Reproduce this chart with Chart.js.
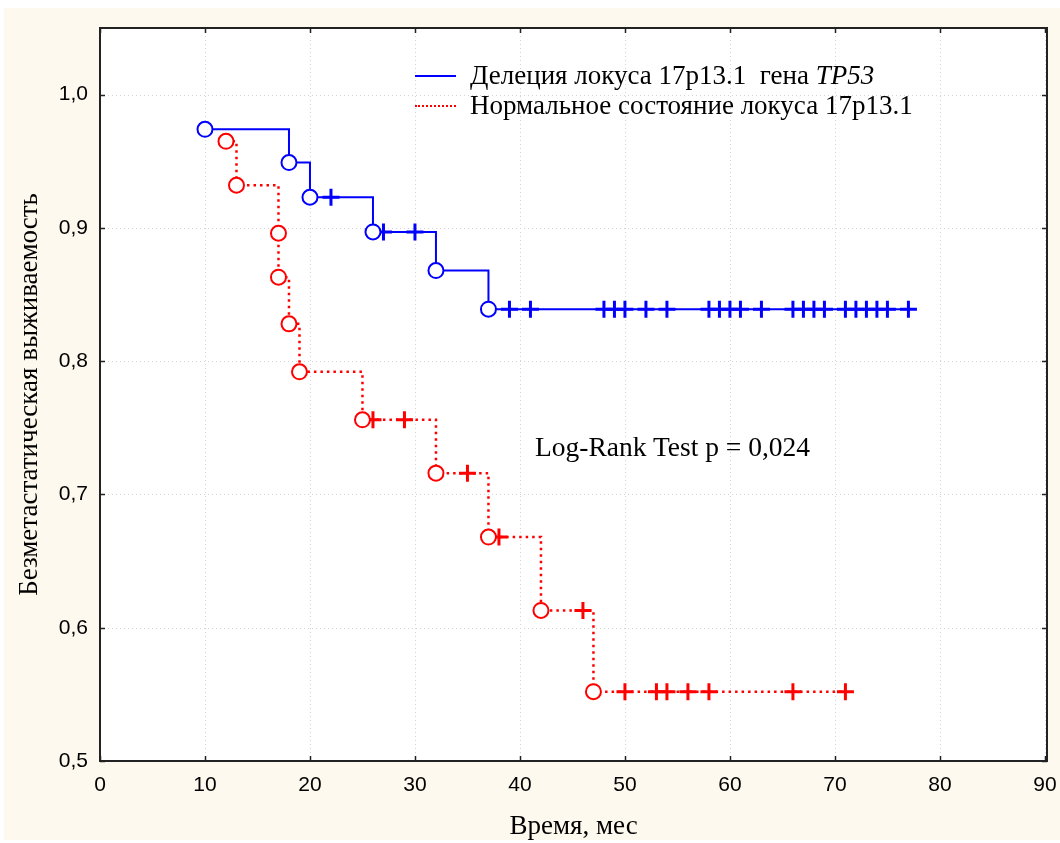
<!DOCTYPE html>
<html>
<head>
<meta charset="utf-8">
<script src="https://cdn.jsdelivr.net/npm/chart.js@4"></script>
<style>
  body { margin: 0; background: #fff; }
  #wrap { position: relative; width: 1060px; height: 843px; background: #fff; }
  #bg { position: absolute; left: 4px; top: 8px; right: 0; bottom: 3px; background: #fdf9ee; }
  canvas { position: absolute; left: 0; top: 0; }
  .txt { position: absolute; font-family: 'Liberation Serif', 'Times New Roman', serif; color: #000; white-space: nowrap; }
  .leg { font-size: 27px; line-height: 30px; left: 415px; }
  .leg .sw { display: inline-block; width: 41px; height: 0; vertical-align: middle; margin-right: 14px; position: relative; top: -2px; }
</style>
</head>
<body>
<div id="wrap">
  <div id="bg"></div>
  <canvas id="km" width="1060" height="843"></canvas>
  <div class="txt leg" style="top:60px"><span class="sw" style="border-top:2px solid #0000ff"></span>Делеция локуса 17p13.1&nbsp; гена <i>TP53</i></div>
  <div class="txt leg" style="top:90px"><span class="sw" style="border-top:2px dotted #ff0000"></span>Нормальное состояние локуса 17p13.1</div>
  <div class="txt" style="left:535px; top:431px; font-size:27.5px; line-height:32px">Log-Rank Test p = 0,024</div>
</div>
<script>
// Делеция локуса 17p13.1 (синяя кривая)
const blueEventTimes = [10, 18, 20, 26, 32, 37];
const blueEventSurv = [0.974, 0.949, 0.923, 0.897, 0.868, 0.839];
const blueCensorTimes = [22, 27, 30, 39, 41, 48, 49, 50, 52, 54, 58, 59, 60, 61, 63, 66, 67, 68, 69, 71, 72, 73, 74, 75, 77];

// Нормальное состояние (красная кривая)
const redEventTimes = [12, 13, 17, 17, 18, 19, 25, 32, 37, 42, 47];
const redEventSurv = [0.965, 0.932, 0.896, 0.863, 0.828, 0.792, 0.756, 0.716, 0.668, 0.613, 0.552];
const redCensorTimes = [26, 29, 35, 38, 46, 50, 53, 54, 56, 58, 66, 71];

const xTicks = [0, 10, 20, 30, 40, 50, 60, 70, 80, 90];
const yTicks = [0.5, 0.6, 0.7, 0.8, 0.9, 1.0];

function survAt(times, surv, t) {
    let s = 1;
    for (let i = 0; i < times.length; i++) {
        if (times[i] <= t) s = surv[i];
    }
    return s;
}

function eventPoints(times, surv) {
    return times.map((t, i) => ({ x: t, y: surv[i] }));
}

function censorPoints(times, evTimes, evSurv) {
    return times.map(t => ({ x: t, y: survAt(evTimes, evSurv, t) }));
}

function stepPoints(evTimes, evSurv, cTimes) {
    const pts = eventPoints(evTimes, evSurv).concat(censorPoints(cTimes, evTimes, evSurv));
    pts.sort((a, b) => a.x - b.x || b.y - a.y);
    return pts;
}

const BLUE = '#0000ff';
const RED = '#ff0000';

const decor = {
    id: 'decor',
    beforeDraw(chart) {
        const { ctx, chartArea: a } = chart;
        ctx.save();
        ctx.fillStyle = '#ffffff';
        ctx.fillRect(a.left, a.top, a.right - a.left, a.bottom - a.top);
        ctx.strokeStyle = '#d4d4d4';
        ctx.lineWidth = 1;
        ctx.setLineDash([1, 3]);
        const xs = chart.scales.x, ys = chart.scales.y;
        xTicks.forEach(v => {
            const px = Math.round(xs.getPixelForValue(v)) + 0.5;
            ctx.beginPath(); ctx.moveTo(px, a.top); ctx.lineTo(px, a.bottom); ctx.stroke();
        });
        yTicks.forEach(v => {
            const py = Math.round(ys.getPixelForValue(v)) + 0.5;
            ctx.beginPath(); ctx.moveTo(a.left, py); ctx.lineTo(a.right, py); ctx.stroke();
        });
        ctx.restore();
    },
    afterDraw(chart) {
        const { ctx, chartArea: a } = chart;
        const xs = chart.scales.x, ys = chart.scales.y;
        ctx.save();
        ctx.strokeStyle = '#222';
        ctx.lineWidth = 2;
        ctx.strokeRect(a.left, a.top, a.right - a.left, a.bottom - a.top);
        ctx.lineWidth = 1.5;
        xTicks.forEach(v => {
            const px = Math.round(xs.getPixelForValue(v)) + 0.5;
            ctx.beginPath();
            ctx.moveTo(px, a.bottom); ctx.lineTo(px, a.bottom - 5);
            ctx.moveTo(px, a.top); ctx.lineTo(px, a.top + 5);
            ctx.stroke();
        });
        yTicks.forEach(v => {
            const py = Math.round(ys.getPixelForValue(v)) + 0.5;
            ctx.beginPath();
            ctx.moveTo(a.left, py); ctx.lineTo(a.left + 5, py);
            ctx.moveTo(a.right, py); ctx.lineTo(a.right - 5, py);
            ctx.stroke();
        });
        ctx.restore();
    }
};

const tickFont = { family: "'Liberation Sans', Arial, sans-serif", size: 21 };
const titleFont = { family: "'Liberation Serif', 'Times New Roman', serif", size: 27 };

new Chart(document.getElementById('km'), {
    type: 'scatter',
    data: {
        datasets: [
            {
                label: 'blue events',
                data: eventPoints(blueEventTimes, blueEventSurv),
                pointStyle: 'circle', pointRadius: 7.5, borderWidth: 2,
                borderColor: BLUE, backgroundColor: '#ffffff', order: 1
            },
            {
                label: 'blue censored',
                data: censorPoints(blueCensorTimes, blueEventTimes, blueEventSurv),
                pointStyle: 'cross', pointRadius: 8.5, borderWidth: 3,
                borderColor: BLUE, backgroundColor: BLUE, order: 1
            },
            {
                label: 'red events',
                data: eventPoints(redEventTimes, redEventSurv),
                pointStyle: 'circle', pointRadius: 7.5, borderWidth: 2,
                borderColor: RED, backgroundColor: '#ffffff', order: 1
            },
            {
                label: 'red censored',
                data: censorPoints(redCensorTimes, redEventTimes, redEventSurv),
                pointStyle: 'cross', pointRadius: 8.5, borderWidth: 3,
                borderColor: RED, backgroundColor: RED, order: 1
            },
            {
                label: 'Делеция локуса 17p13.1 гена TP53',
                data: stepPoints(blueEventTimes, blueEventSurv, blueCensorTimes),
                showLine: true, stepped: 'before', pointRadius: 0,
                borderColor: BLUE, borderWidth: 2, order: 2
            },
            {
                label: 'Нормальное состояние локуса 17p13.1',
                data: stepPoints(redEventTimes, redEventSurv, redCensorTimes),
                showLine: true, stepped: 'before', pointRadius: 0,
                borderColor: RED, borderWidth: 2.5, borderDash: [2.5, 4], order: 2
            }
        ]
    },
    options: {
        responsive: false,
        animation: false,
        layout: { padding: { left: 0, top: 28, right: 13, bottom: 0 } },
        plugins: { legend: { display: false }, tooltip: { enabled: false } },
        scales: {
            x: {
                type: 'linear', min: 0, max: 90.2,
                afterFit: s => { s.height = 82; s.paddingLeft = 0; s.paddingRight = 0; },
                afterBuildTicks: s => { s.ticks = xTicks.map(v => ({ value: v })); },
                grid: { display: false, drawTicks: false },
                border: { display: false },
                ticks: { font: tickFont, color: '#000', padding: 12, maxRotation: 0 },
                title: { display: true, text: 'Время, мес', font: titleFont, color: '#000', padding: { top: 0, bottom: 0 } }
            },
            y: {
                type: 'linear', min: 0.5, max: 1.05,
                afterFit: s => { s.width = 100; s.paddingTop = 0; s.paddingBottom = 0; },
                afterBuildTicks: s => { s.ticks = yTicks.map(v => ({ value: v })); },
                grid: { display: false, drawTicks: false },
                border: { display: false },
                ticks: { font: tickFont, color: '#000', padding: 12, callback: v => v.toFixed(1).replace('.', ',') },
                title: { display: true, text: 'Безметастатическая выживаемость', font: titleFont, color: '#000', padding: { top: 14, bottom: 0 } }
            }
        }
    },
    plugins: [decor]
});
</script>
</body>
</html>
